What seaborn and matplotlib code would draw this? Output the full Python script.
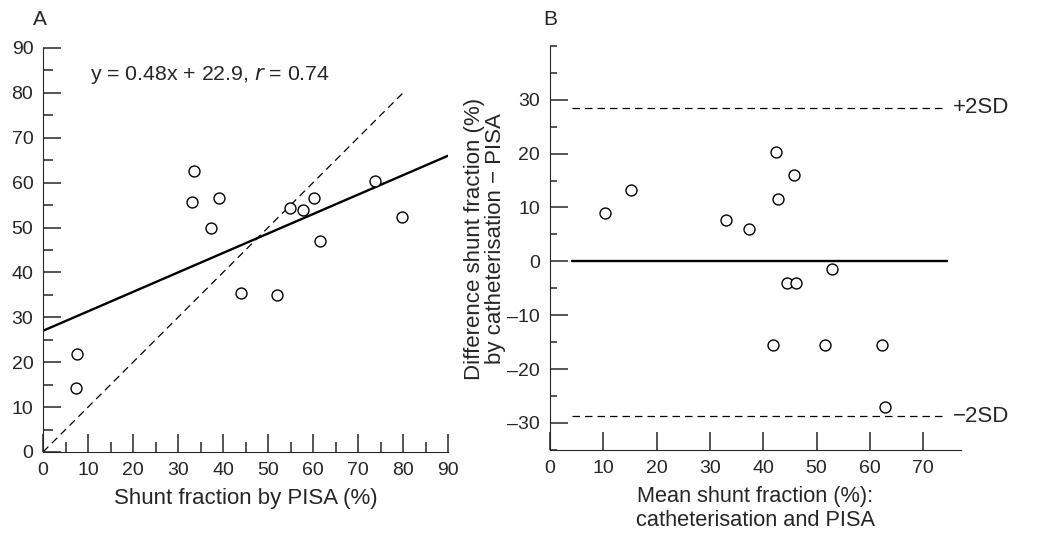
import matplotlib
matplotlib.use("Agg")
import matplotlib.pyplot as plt
import seaborn as sns
import numpy as np
from matplotlib.ticker import MultipleLocator

# Panel A: catheterisation vs PISA shunt fraction
pisa = [33.5, 33.2, 39.2, 37.3, 54.8, 57.7, 60.3, 61.6, 73.8, 79.7, 43.9, 51.9, 7.6, 7.3]
cath = [62.7, 55.6, 56.5, 49.9, 54.3, 53.9, 56.6, 47.1, 60.4, 52.3, 35.4, 34.9, 21.8, 14.3]
fit_x = [0, 90]
fit_y = [27.0, 66.0]
ident_x = [0, 80]
ident_y = [0, 80]

# Panel B: Bland-Altman
mean_sf = [10.3, 15.2, 33.1, 37.4, 42.3, 42.8, 45.7, 52.9, 44.4, 46.2, 41.8, 51.6, 62.3, 62.9]
diff_sf = [8.9, 13.3, 7.6, 6.0, 20.2, 11.6, 16.0, -1.5, -4.1, -4.1, -15.6, -15.6, -15.6, -27.0]
lim_x = [4.2, 74.4]
mean_diff = 0.0
upper_sd = 28.5
lower_sd = -28.8

sns.set_style("ticks")
plt.rcParams["font.family"] = ["Liberation Sans", "DejaVu Sans"]

fig = plt.figure(figsize=(10.42, 5.33), dpi=100)
ax1 = fig.add_axes([0.0413, 0.152, 0.3887, 0.758])
ax2 = fig.add_axes([0.5278, 0.156, 0.394, 0.758])

tick_fs = 14
dash = (0, (6, 4))

# ---- A ----
sns.scatterplot(x=pisa, y=cath, ax=ax1, marker="o", s=62, facecolor="white",
                edgecolor="black", linewidth=1.0, zorder=3)
sns.lineplot(x=fit_x, y=fit_y, ax=ax1, color="black", lw=1.7)
sns.lineplot(x=ident_x, y=ident_y, ax=ax1, color="black", lw=0.9, linestyle=dash)
ax1.set_xlim(0, 90)
ax1.set_ylim(0, 90)
ax1.xaxis.set_major_locator(MultipleLocator(10))
ax1.xaxis.set_minor_locator(MultipleLocator(5))
ax1.yaxis.set_major_locator(MultipleLocator(10))
ax1.yaxis.set_minor_locator(MultipleLocator(5))
ax1.tick_params(which="major", direction="in", length=13, width=1.1, labelsize=tick_fs, pad=7)
ax1.tick_params(which="minor", direction="in", length=7, width=1.1)
ax1.set_xlabel("Shunt fraction by PISA (%)", fontsize=16, labelpad=7)
ax1.text(10.5, 84, "y = 0.48x + 22.9, $\\it{r}$ = 0.74", fontsize=15.3, va="center")
fig.text(0.032, 0.963, "A", fontsize=15, va="center")
sns.despine(ax=ax1)

# ---- B ----
sns.scatterplot(x=mean_sf, y=diff_sf, ax=ax2, marker="o", s=62, facecolor="white",
                edgecolor="black", linewidth=1.0, zorder=3)
sns.lineplot(x=lim_x, y=[mean_diff, mean_diff], ax=ax2, color="black", lw=1.7)
sns.lineplot(x=lim_x, y=[upper_sd, upper_sd], ax=ax2, color="black", lw=0.9, linestyle=dash)
sns.lineplot(x=lim_x, y=[lower_sd, lower_sd], ax=ax2, color="black", lw=0.9, linestyle=dash)
ax2.text(75.5, upper_sd, "+2SD", fontsize=16, va="center")
ax2.text(75.5, lower_sd, "\u22122SD", fontsize=16, va="center")
ax2.set_xlim(0, 77)
ax2.set_ylim(-35, 40)
ax2.set_xticks(range(0, 80, 10))
ax2.yaxis.set_minor_locator(MultipleLocator(5))
ax2.set_yticks(range(-30, 40, 10))
ax2.set_yticklabels([str(v).replace("-", "\u2013") for v in range(-30, 40, 10)])
ax2.tick_params(which="major", direction="in", length=13, width=1.1, labelsize=tick_fs, pad=7)
ax2.tick_params(which="minor", direction="in", length=5, width=1.1)
ax2.tick_params(axis="x", which="minor", length=0)
ax2.set_xlabel("Mean shunt fraction (%):\ncatheterisation and PISA", fontsize=15.7,
               labelpad=7, linespacing=1.2)
ax2.set_ylabel("Difference shunt fraction (%)\nby catheterisation \u2212 PISA", fontsize=16,
               linespacing=0.95)
ax2.yaxis.set_label_coords(-0.108, 0.522)
fig.text(0.521, 0.963, "B", fontsize=15, va="center")
sns.despine(ax=ax2)

fig.savefig("out.png", dpi=100)
